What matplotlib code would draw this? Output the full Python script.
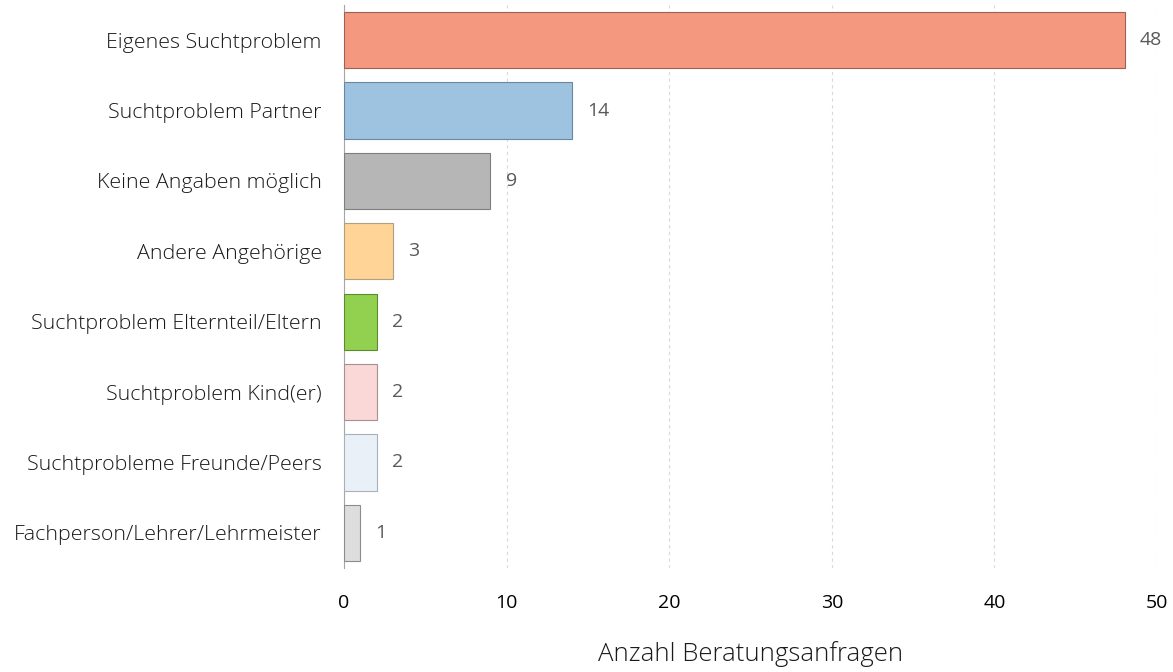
import matplotlib.pyplot as plt

# Data
categories = [
    "Eigenes Suchtproblem",
    "Suchtproblem Partner",
    "Keine Angaben möglich",
    "Andere Angehörige",
    "Suchtproblem Elternteil/Eltern",
    "Suchtproblem Kind(er)",
    "Suchtprobleme Freunde/Peers",
    "Fachperson/Lehrer/Lehrmeister",
]
values = [48, 14, 9, 3, 2, 2, 2, 1]
bar_colors = ["#F4997F", "#9DC3E0", "#B6B6B6", "#FFD496",
              "#92D050", "#F9D8D7", "#E9F0F8", "#DDDDDD"]
edge_colors = ["#A0604F", "#6A879F", "#7F7F7F", "#B0A080",
               "#5C8A30", "#A89090", "#A8B0B8", "#8C8C8C"]
xticks = [0, 10, 20, 30, 40, 50]

plt.rcParams['font.family'] = ['Open Sans', 'DejaVu Sans']
plt.rcParams['font.weight'] = 'light'

fig = plt.figure(figsize=(11.73, 6.72), dpi=100)
ax = fig.add_axes([0.2933, 0.1548, 0.6931, 0.8378])

y = list(range(len(categories)))
ax.barh(y, values, height=0.8, color=bar_colors, edgecolor=edge_colors,
        linewidth=0.8, zorder=3)

for yi, v in zip(y, values):
    ax.annotate(str(v), (v, yi), xytext=(11, 0), textcoords='offset points',
                va='center', ha='left', fontsize=14, fontweight='normal',
                color='#595959')

ax.set_ylim(len(categories) - 0.5, -0.5)
ax.set_xlim(0, 50)
ax.set_xticks(xticks)
ax.set_yticks(y)
ax.set_yticklabels(categories, fontsize=15.4, color='#1A1A1A')
ax.tick_params(axis='x', labelsize=14, colors='#000000', length=0, pad=19)
for lbl in ax.get_xticklabels():
    lbl.set_fontweight('normal')
ax.tick_params(axis='y', length=0, pad=16)

ax.grid(axis='x', linestyle=(0, (3, 3)), color='#D9D9D9', linewidth=0.8, zorder=0)
for s in ['top', 'right', 'bottom']:
    ax.spines[s].set_visible(False)
ax.spines['left'].set_color('#A6A6A6')
ax.spines['left'].set_linewidth(0.8)

ax.set_xlabel("Anzahl Beratungsanfragen", fontsize=18.5, fontweight='light',
              color='#1A1A1A', labelpad=21)

fig.savefig("out.png", dpi=100)
